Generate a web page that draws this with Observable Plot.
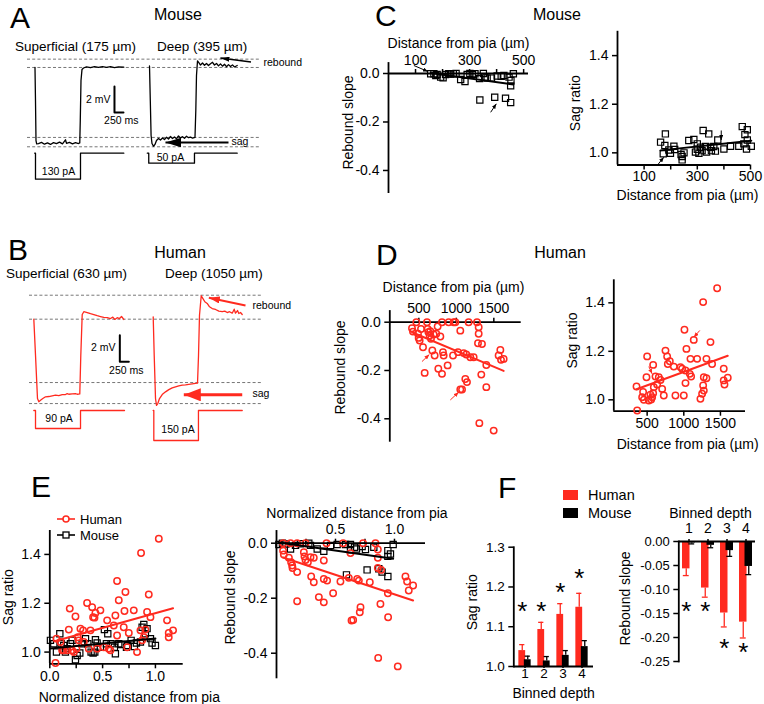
<!DOCTYPE html>
<html><head><meta charset="utf-8">
<script src="https://cdn.jsdelivr.net/npm/d3@7"></script>
<script src="https://cdn.jsdelivr.net/npm/@observablehq/plot@0.6"></script>
<style>
body{margin:0;background:#fff;}
#fig{position:relative;width:764px;height:704px;overflow:hidden;background:#fff;font-family:"Liberation Sans",Arial,Helvetica,sans-serif;color:#000;}
.lbl{position:absolute;white-space:nowrap;line-height:1;}
</style></head><body><div id="fig"></div>
<script>
// ================= DATA =================
// Panel A (mouse) voltage traces: [time ms, ΔV mV]
const mouseSuperficialTrace = [[0,0],[14,-2.54],[28,-5.62],[47,-5.88],[97,-5.85],[181,-5.76],[264,-5.90],[347,-5.80],[431,-5.92],[514,-5.78],[597,-5.86],[681,-5.74],[764,-5.88],[847,-5.56],[875,-5.84],[958,-5.76],[1042,-5.87],[1125,-5.78],[1208,-5.85],[1244,-5.80],[1258,-4.08],[1278,-1.0],[1306,-0.15],[1347,-0.04],[1431,0.05],[1542,-0.02],[1653,0.06],[1764,0.0],[1875,0.07],[1986,0.01],[2097,0.06],[2208,-0.01],[2319,0.05],[2467,0.02]];
const mouseDeepTrace = [[3181,0.12],[3203,-2.54],[3225,-5.23],[3250,-5.85],[3292,-6.06],[3333,-5.92],[3375,-5.62],[3431,-5.46],[3486,-5.58],[3542,-5.42],[3597,-5.54],[3653,-5.37],[3708,-5.5],[3764,-5.31],[3819,-5.46],[3875,-5.35],[3931,-5.48],[3986,-5.27],[4042,-5.42],[4097,-5.32],[4153,-5.45],[4208,-5.29],[4264,-5.4],[4319,-5.35],[4375,-5.43],[4444,-5.38],[4467,-3.31],[4486,-0.62],[4514,0.5],[4556,0.35],[4597,0.19],[4653,0.34],[4708,0.17],[4764,0.31],[4819,0.15],[4875,0.29],[4931,0.4],[4986,0.19],[5042,0.31],[5097,0.12],[5153,0.28],[5208,0.1],[5264,0.25],[5319,0.06],[5375,0.22],[5431,0.07],[5486,0.2],[5542,0.04],[5617,0.15]];
// Panel A current steps: [time ms, pA]
const mouseSuperficialStep = [[-8,0],[14,0],[14,-130],[1264,-130],[1264,0],[2467,0]];
const mouseDeepStep = [[3120,0],[3160,0],[3160,-50],[4430,-50],[4430,0],[5617,0]];
const mouseLevels = [0.64, 0, -5.38, -6.1];
// Panel B (human)
const humanSuperficialTrace = [[-33,0],[14,-2.71],[69,-5.96],[106,-6.2],[153,-6.09],[217,-5.96],[292,-5.83],[383,-5.81],[478,-5.76],[569,-5.71],[661,-5.74],[756,-5.66],[847,-5.66],[894,-5.59],[939,-5.64],[1033,-5.61],[1125,-5.59],[1172,-5.64],[1244,-5.61],[1272,-2.71],[1311,0.35],[1356,0.56],[1450,0.5],[1542,0.41],[1633,0.35],[1728,0.26],[1819,0.2],[1911,0.13],[2006,0.11],[2097,0.05],[2161,0.15],[2217,-0.02],[2283,0.11],[2347,0.05],[2403,0.2],[2467,-0.02]];
const humanDeepTrace = [[3283,0.18],[3311,-2.71],[3347,-5.96],[3375,-6.47],[3411,-6.34],[3458,-5.96],[3533,-5.66],[3625,-5.46],[3717,-5.29],[3811,-5.16],[3903,-5.08],[3994,-5.01],[4089,-4.96],[4181,-4.93],[4272,-4.89],[4367,-4.86],[4458,-4.83],[4514,-4.81],[4542,-2.71],[4569,0.3],[4617,1.76],[4661,1.56],[4717,1.31],[4783,1.18],[4847,0.93],[4922,0.8],[5014,0.73],[5106,0.6],[5200,0.56],[5272,0.6],[5339,0.5],[5403,0.56],[5478,0.45],[5533,0.75],[5569,0.45],[5625,0.65],[5661,0.43],[5708,0.5],[5756,0.35]];
const humanSuperficialStep = [[-33,0],[14,0],[14,-90],[1264,-90],[1264,0],[2486,0]];
const humanDeepStep = [[3283,0],[3300,0],[3300,-150],[4540,-150],[4540,0],[5756,0]];
const humanLevels = [1.8, 0, -4.76, -6.34];
const scaleBar = {mV: 2, ms: 250};

// Panel C (mouse): [distance µm, value]
const mouseReboundVsDist = [[156,-0.001],[168,-0.001],[175,-0.008],[180,-0.004],[193,-0.015],[202,-0.018],[211,-0.004],[223,-0.001],[230,-0.002],[240,-0.001],[250,0],[267,-0.025],[283,-0.033],[291,-0.004],[301,0],[310,-0.004],[320,-0.001],[337,-0.021],[351,0],[356,-0.015],[365,-0.019],[381,-0.019],[402,-0.010],[417,-0.012],[427,-0.008],[446,-0.015],[453,-0.029],[462,-0.001],[452,-0.051],[338,-0.109],[393,-0.098],[433,-0.102],[452,-0.120]];
const mouseSagVsDist = [[162,1.044],[180,1.078],[178,1.030],[172,0.996],[193,1.012],[199,0.998],[212,1.027],[215,1.014],[239,0.993],[243,0.971],[243,0.985],[268,1.051],[287,1.055],[293,1.003],[300,1.037],[306,0.998],[312,1.023],[318,1.009],[322,1.092],[331,1.026],[335,1.003],[343,1.078],[350,1.023],[353,1.009],[362,1.026],[368,1.007],[377,1.053],[400,1.016],[425,1.027],[456,1.027],[469,1.108],[479,1.075],[488,1.095],[488,1.053],[485,1.016],[503,1.027],[475,1.037],[300,1.015],[250,1.000]];
// Panel D (human)
const humanReboundVsDist = [[409,-0.025],[422,-0.039],[467,0],[489,-0.048],[498,-0.065],[511,-0.076],[529,-0.028],[556,-0.104],[578,-0.210],[609,0],[618,-0.028],[627,-0.041],[644,-0.055],[653,-0.037],[662,-0.069],[680,-0.117],[698,-0.051],[711,-0.138],[733,-0.048],[751,-0.018],[760,-0.193],[787,-0.059],[809,-0.214],[809,0],[822,-0.124],[831,-0.138],[884,-0.179],[898,0],[964,0],[956,-0.138],[987,0],[1053,-0.035],[1022,-0.124],[1098,-0.128],[1120,-0.235],[1142,-0.248],[1133,-0.134],[1164,0],[1187,-0.145],[1076,-0.279],[1053,-0.279],[1231,-0.145],[1276,0],[1298,-0.021],[1298,-0.048],[1289,-0.087],[1342,-0.090],[1333,-0.217],[1307,-0.418],[1400,-0.177],[1400,-0.269],[1498,-0.449],[1564,-0.138],[1587,-0.115],[1596,-0.156],[1631,-0.152]];
const humanSagVsDist = [[355,1.055],[364,0.956],[432,1.011],[445,1.032],[455,1.000],[491,1.093],[500,1.179],[523,0.997],[545,1.021],[555,1.001],[568,1.011],[582,1.027],[591,1.052],[582,1.144],[614,1.096],[636,1.063],[659,1.093],[682,1.082],[705,1.045],[727,1.018],[750,1.203],[773,1.179],[782,1.148],[809,1.159],[864,1.137],[886,1.018],[955,1.135],[977,1.128],[1000,1.018],[1023,1.121],[1009,1.289],[1036,1.210],[1023,1.069],[1091,1.169],[1082,1.107],[1100,1.096],[1136,1.247],[1182,1.169],[1250,1.025],[1227,1.004],[1264,1.403],[1273,1.093],[1264,1.059],[1273,1.038],[1309,1.089],[1309,1.169],[1364,1.238],[1386,1.148],[1455,1.460],[1545,1.080],[1555,1.063],[1545,1.128],[1600,1.091]];
// Panel E: [normalized distance, value]
const humanSagNorm = [[0.054,0.955],[0.063,1.055],[0.101,1.041],[0.117,1.007],[0.132,1.007],[0.164,1.007],[0.180,1.092],[0.189,1.178],[0.211,1.007],[0.227,1.000],[0.243,1.146],[0.252,1.014],[0.265,1.061],[0.274,1.048],[0.290,1.096],[0.315,1.089],[0.322,1.041],[0.353,1.201],[0.369,1.014],[0.385,1.089],[0.401,1.184],[0.410,1.143],[0.423,1.141],[0.432,1.160],[0.448,1.014],[0.479,1.171],[0.511,1.020],[0.543,1.130],[0.558,1.014],[0.574,1.007],[0.606,1.109],[0.621,1.150],[0.637,1.291],[0.653,1.212],[0.637,1.068],[0.700,1.102],[0.716,1.246],[0.732,1.020],[0.707,1.168],[0.748,1.078],[0.795,1.171],[0.826,1.000],[0.858,1.089],[0.864,1.406],[0.874,1.048],[0.890,1.061],[0.905,1.092],[0.921,1.164],[0.937,1.236],[0.953,1.143],[1.032,1.464],[1.110,1.130],[1.126,1.078],[1.126,1.061],[1.167,1.089]];
const mouseSagNorm = [[0.006,1.048],[0.038,1.034],[0.063,1.000],[0.095,1.075],[0.107,1.034],[0.132,1.027],[0.148,1.000],[0.164,1.014],[0.196,1.034],[0.211,1.048],[0.243,0.969],[0.259,0.986],[0.284,0.996],[0.306,1.034],[0.338,1.055],[0.360,1.034],[0.391,1.000],[0.410,0.996],[0.426,1.000],[0.432,1.051],[0.448,1.037],[0.479,1.020],[0.517,1.092],[0.536,1.034],[0.549,1.075],[0.580,1.034],[0.612,1.020],[0.621,0.993],[0.653,1.034],[0.675,1.031],[0.726,1.020],[0.738,1.027],[0.770,1.048],[0.801,1.023],[0.820,1.037],[0.858,1.041],[0.874,1.102],[0.890,1.113],[0.905,1.075],[0.921,1.096],[0.953,1.055],[0.968,1.037],[1.000,1.027]];
const humanReboundNorm = [[0.056,0],[0.056,-0.027],[0.062,-0.041],[0.105,-0.053],[0.124,-0.069],[0.133,-0.081],[0.136,-0.090],[0.175,-0.105],[0.175,-0.211],[0.119,0],[0.175,0],[0.246,0],[0.232,-0.033],[0.237,-0.048],[0.246,-0.061],[0.266,-0.069],[0.288,-0.051],[0.316,-0.053],[0.294,-0.121],[0.316,-0.142],[0.359,-0.196],[0.401,-0.063],[0.401,-0.130],[0.401,-0.215],[0.424,0],[0.429,-0.136],[0.480,-0.182],[0.542,-0.139],[0.565,0],[0.627,-0.036],[0.613,-0.126],[0.684,-0.130],[0.698,-0.136],[0.712,-0.233],[0.650,-0.279],[0.636,-0.281],[0.706,-0.251],[0.734,0],[0.791,-0.142],[0.839,0],[0.859,-0.023],[0.859,-0.053],[0.859,-0.090],[0.887,-0.097],[0.881,-0.221],[0.944,-0.182],[0.946,-0.269],[0.862,-0.417],[1.028,-0.448],[1.093,-0.121],[1.107,-0.139],[1.121,-0.172],[1.158,-0.154]];
const mouseReboundNorm = [[0.020,-0.005],[0.05,0],[0.08,-0.003],[0.119,-0.021],[0.161,-0.008],[0.203,-0.002],[0.274,0],[0.288,-0.008],[0.345,-0.021],[0.401,-0.029],[0.458,-0.008],[0.514,-0.005],[0.585,-0.005],[0.593,-0.115],[0.627,-0.005],[0.627,-0.024],[0.661,-0.015],[0.678,-0.021],[0.726,-0.012],[0.754,-0.023],[0.768,-0.097],[0.825,-0.015],[0.867,-0.093],[0.895,-0.105],[0.944,-0.121],[0.944,-0.048],[0.944,-0.027],[0.966,-0.039],[0.989,-0.005]];
// Panel F: binned depth means and SEM
const bins = ["1","2","3","4"];
const humanSagBinned = [1.040, 1.093, 1.131, 1.149];
const humanSagSem = [0.015, 0.018, 0.027, 0.035];
const mouseSagBinned = [1.017, 1.014, 1.028, 1.050];
const mouseSagSem = [0.009, 0.011, 0.012, 0.015];
const sagStars = [1.153, 1.153, 1.200, 1.237];
const humanReboundBinned = [-0.057, -0.097, -0.149, -0.168];
const humanReboundSem = [0.014, 0.019, 0.029, 0.033];
const mouseReboundBinned = [-0.003, -0.008, -0.019, -0.052];
const mouseReboundSem = [0.002, 0.005, 0.012, 0.017];
const reboundStars = [-0.133, -0.133, -0.210, -0.219];

// ================= HELPERS =================
const fig = document.getElementById("fig");
const FONT = '"Liberation Sans", Arial, Helvetica, sans-serif';
const RED = "#ff2a1f";
const st = (size) => ({background: "transparent", overflow: "visible", fontFamily: FONT, fontSize: size + "px", color: "#000"});
function place(svg, left, top) {
  const w = document.createElement("div");
  w.style.position = "absolute"; w.style.left = left + "px"; w.style.top = top + "px";
  w.style.width = svg.getAttribute("width") + "px"; w.style.height = svg.getAttribute("height") + "px";
  w.appendChild(svg); fig.appendChild(w);
}
function txt(s, x, y, size, anchor = "start") {
  const d = document.createElement("div");
  d.className = "lbl"; d.textContent = s;
  d.style.fontSize = size + "px"; d.style.left = x + "px"; d.style.top = y + "px";
  d.style.transform = anchor === "middle" ? "translate(-50%,-50%)" : "translate(0,-50%)";
  fig.appendChild(d);
}
function head(len, wid) {
  return (color, context) => {
    const ns = "http://www.w3.org/2000/svg";
    const doc = (context && context.document) || document;
    const m = doc.createElementNS(ns, "marker");
    m.setAttribute("viewBox", `${-len} ${-wid / 2} ${len} ${wid}`);
    m.setAttribute("markerWidth", len); m.setAttribute("markerHeight", wid);
    m.setAttribute("markerUnits", "userSpaceOnUse");
    m.setAttribute("orient", "auto");
    const p = doc.createElementNS(ns, "path");
    p.setAttribute("d", `M0,0L${-len},${-wid / 2}L${-len},${wid / 2}Z`);
    p.setAttribute("fill", color); p.setAttribute("stroke", "none");
    m.appendChild(p);
    return m;
  };
}
const X = d => d[0], Y = d => d[1];
const arrow = (a, color, w, len, wid) => Plot.link([a], {x1: d => d[0], y1: d => d[1], x2: d => d[2], y2: d => d[3], stroke: color, strokeWidth: w, markerEnd: head(len, wid)});
const f1 = d => d.toFixed(1), f2 = d => d.toFixed(2);
const label = (s, o) => Plot.text([s], {text: d => d, fontSize: 14, textAnchor: "middle", lineAnchor: "middle", ...o});

// ================= PANEL A / B TRACES =================
function annot(texts, size) {
  return ["start", "middle", "end"].map(a => Plot.text(texts.filter(d => d[3] === a), {x: d => d[0], y: d => d[1], text: d => d[2], textAnchor: a, fontSize: size, fill: "black"}));
}
function tracePlot(o) {
  const sb = [[o.bar[0], o.bar[1]], [o.bar[0], o.bar[1] - scaleBar.mV], [o.bar[0] + scaleBar.ms, o.bar[1] - scaleBar.mV]];
  return Plot.plot({
    width: 305, height: o.height, marginLeft: o.ml, marginRight: 305 - o.ml - 233, marginTop: 0, marginBottom: 0,
    x: {domain: o.xd, axis: null}, y: {domain: o.yd, axis: null}, style: st(10.5),
    marks: [
      Plot.ruleY(o.levels, {stroke: "#666", strokeWidth: 0.9, strokeDasharray: "3,2.2"}),
      Plot.line(o.sup, {x: X, y: Y, stroke: o.color, strokeWidth: 1.3}),
      Plot.line(o.deep, {x: X, y: Y, stroke: o.color, strokeWidth: 1.3}),
      Plot.line(sb, {x: X, y: Y, stroke: "black", strokeWidth: 2}),
      ...annot(o.texts, 10.5),
      arrow(o.arrow1, o.color, o.aw1, o.ah1[0], o.ah1[1]),
      arrow(o.arrow2, o.color, o.aw2, o.ah2[0], o.ah2[1])
    ]
  });
}
function stepPlot(o) {
  return Plot.plot({
    width: 305, height: 45, marginLeft: o.ml, marginRight: 305 - o.ml - 233, marginTop: 0, marginBottom: 0,
    x: {domain: o.xd, axis: null}, y: {domain: o.yd, axis: null}, style: st(10.5),
    marks: [
      Plot.line(o.sup, {x: X, y: Y, stroke: o.color, strokeWidth: 1.3}),
      Plot.line(o.deep, {x: X, y: Y, stroke: o.color, strokeWidth: 1.3}),
      Plot.text(o.texts, {x: d => d[0], y: d => d[1], text: d => d[2], fontSize: 10.5, fill: "black"})
    ]
  });
}
place(tracePlot({
  height: 110, ml: 27, xd: [-208, 6264], yd: [-6.77, 1.69], levels: mouseLevels, color: "black",
  sup: mouseSuperficialTrace, deep: mouseDeepTrace, bar: [2208, -1.46],
  texts: [[2097, -2.44, "2 mV", "end"], [2397, -4.1, "250 ms", "middle"], [6347, 0.41, "rebound", "start"], [5458, -5.72, "sag", "start"]],
  arrow1: [6000, 0.42, 5150, 0.72], aw1: 1.5, ah1: [9, 5],
  arrow2: [5375, -5.77, 3625, -5.77], aw2: 2, ah2: [16, 10]
}), 0, 45);
place(stepPlot({ml: 27, xd: [-208, 6264], yd: [-186.5, 38.5], color: "black", sup: mouseSuperficialStep, deep: mouseDeepStep,
  texts: [[653, -93, "130 pA"], [3764, -20, "50 pA"]]}), 0, 145);
place(tracePlot({
  height: 125, ml: 29, xd: [-153, 6319], yd: [-6.86, 2.53], levels: humanLevels, color: RED,
  sup: humanSuperficialTrace, deep: humanDeepTrace, bar: [2356, -1.2],
  texts: [[2236, -2.15, "2 mV", "end"], [2536, -3.83, "250 ms", "middle"], [6042, 1.03, "rebound", "start"], [6042, -5.59, "sag", "start"]],
  arrow1: [5847, 1.03, 4828, 1.61], aw1: 2, ah1: [11, 7],
  arrow2: [5756, -5.68, 4133, -5.68], aw2: 3, ah2: [17, 13]
}), 0, 285);
place(stepPlot({ml: 29, xd: [-153, 6319], yd: [-195, 30], color: RED, sup: humanSuperficialStep, deep: humanDeepStep,
  texts: [[667, -41.5, "90 pA"], [3972, -96.5, "150 pA"]]}), 0, 404);

// ================= PANEL C =================
place(Plot.plot({
  width: 210, height: 170, marginLeft: 58, marginRight: 12, marginTop: 43, marginBottom: 7,
  x: {domain: [0, 518]}, y: {domain: [-0.495, 0]}, style: st(14),
  marks: [
    Plot.ruleY([0], {strokeWidth: 1.8}),
    Plot.ruleX([0], {y1: -0.495, y2: 0.045, strokeWidth: 1.8}),
    Plot.axisX({anchor: "top", ticks: [100, 200, 300, 400, 500], tickFormat: d => d % 200 === 100 ? d : "", tickSize: 5, strokeWidth: 1.5, label: null}),
    Plot.axisY({ticks: [0, -0.2, -0.4], tickFormat: f1, tickSize: 5, strokeWidth: 1.5, label: null}),
    label("Distance from pia (µm)", {frameAnchor: "top", dy: -30}),
    label("Rebound slope", {frameAnchor: "left", rotate: -90, dx: -40, dy: -11}),
    Plot.dot(mouseReboundVsDist, {x: X, y: Y, symbol: "square", r: 3.5, stroke: "black", fill: "none", strokeWidth: 1.2}),
    Plot.linearRegressionY(mouseReboundVsDist, {x: X, y: Y, ci: 0, stroke: "black", strokeWidth: 2}),
    arrow([94, 0.033, 146, 0.008], "black", 1, 5, 4),
    arrow([378, -0.16, 399, -0.125], "black", 1, 5, 4)
  ]
}), 330, 30);
place(Plot.plot({
  width: 200, height: 210, marginLeft: 57, marginRight: 10, marginTop: 30.8, marginBottom: 45.5,
  x: {domain: [0, 500]}, y: {domain: [0.95, 1.5]}, style: st(14),
  marks: [
    Plot.ruleY([0.95], {strokeWidth: 1.8}),
    Plot.ruleX([0], {strokeWidth: 1.8}),
    Plot.axisX({ticks: [100, 200, 300, 400, 500], tickFormat: d => d % 200 === 100 ? d : "", tickSize: 5, tickPadding: 1, strokeWidth: 1.5, label: null}),
    Plot.axisY({ticks: [1.0, 1.2, 1.4], tickFormat: f1, tickSize: 5, strokeWidth: 1.5, label: null}),
    label("Distance from pia (µm)", {frameAnchor: "bottom", dy: 31, dx: 3.5}),
    label("Sag ratio", {frameAnchor: "left", rotate: -90, dx: -42, dy: 5}),
    Plot.dot(mouseSagVsDist, {x: X, y: Y, symbol: "square", r: 3.5, stroke: "black", fill: "none", strokeWidth: 1.2}),
    Plot.linearRegressionY(mouseSagVsDist, {x: X, y: Y, ci: 0, stroke: "black", strokeWidth: 2}),
    arrow([149, 0.948, 174, 0.982], "black", 1, 5, 4),
    arrow([390, 1.092, 390, 1.053], "black", 1, 5, 4)
  ]
}), 560, 0);

// ================= PANEL D =================
place(Plot.plot({
  width: 200, height: 180, marginLeft: 59.3, marginRight: 9.3, marginTop: 51.7, marginBottom: 8.3,
  x: {domain: [113, 1865]}, y: {domain: [-0.497, 0]}, style: st(14),
  marks: [
    Plot.ruleY([0], {strokeWidth: 1.8}),
    Plot.ruleX([113], {y1: -0.497, y2: 0.048, strokeWidth: 1.8}),
    Plot.axisX({anchor: "top", ticks: [500, 1000, 1500], tickSize: 5, strokeWidth: 1.5, label: null, tickFormat: d => String(d)}),
    Plot.axisY({ticks: [0, -0.2, -0.4], tickFormat: f1, tickSize: 5, strokeWidth: 1.5, label: null}),
    label("Distance from pia (µm)", {frameAnchor: "top", dy: -34.7, dx: -2}),
    label("Rebound slope", {frameAnchor: "left", rotate: -90, dx: -49, dy: -14.7}),
    Plot.dot(humanReboundVsDist, {x: X, y: Y, r: 3.2, stroke: RED, fill: "none", strokeWidth: 1.5}),
    Plot.linearRegressionY(humanReboundVsDist, {x: X, y: Y, ci: 0, stroke: RED, strokeWidth: 2}),
    arrow([542, -0.163, 640, -0.134], RED, 1, 5, 4),
    arrow([920, -0.322, 1031, -0.290], RED, 1, 5, 4)
  ]
}), 330, 270);
place(Plot.plot({
  width: 200, height: 200, marginLeft: 53.3, marginRight: 15, marginTop: 19.3, marginBottom: 49.3,
  x: {domain: [45, 1842]}, y: {domain: [0.953, 1.495]}, style: st(14),
  marks: [
    Plot.ruleY([0.953], {strokeWidth: 1.8}),
    Plot.ruleX([45], {strokeWidth: 1.8}),
    Plot.axisX({ticks: [500, 1000, 1500], tickSize: 5, tickPadding: 2, strokeWidth: 1.5, label: null, tickFormat: d => String(d)}),
    Plot.axisY({ticks: [1.0, 1.2, 1.4], tickFormat: f1, tickSize: 5, strokeWidth: 1.5, label: null}),
    label("Distance from pia (µm)", {frameAnchor: "bottom", dy: 33, dx: 8}),
    label("Sag ratio", {frameAnchor: "left", rotate: -90, dx: -41, dy: -5}),
    Plot.dot(humanSagVsDist, {x: X, y: Y, r: 3.2, stroke: RED, fill: "none", strokeWidth: 1.5}),
    Plot.linearRegressionY(humanSagVsDist, {x: X, y: Y, ci: 0, stroke: RED, strokeWidth: 2}),
    arrow([523, 1.137, 568, 1.107], RED, 1, 5, 4),
    arrow([1218, 1.286, 1136, 1.258], RED, 1, 5, 4)
  ]
}), 560, 260);

// ================= PANEL E =================
place(Plot.plot({
  width: 200, height: 234, marginLeft: 49.3, marginRight: 17.3, marginTop: 60, marginBottom: 40.7,
  x: {domain: [0, 1.263]}, y: {domain: [0.952, 1.498]}, style: st(14),
  marks: [
    Plot.ruleY([0.952], {strokeWidth: 1.8}),
    Plot.ruleX([0], {strokeWidth: 1.8}),
    Plot.axisX({ticks: [0, 0.25, 0.5, 0.75, 1.0], tickFormat: d => (d * 2) % 1 === 0 ? d.toFixed(1) : "", tickSize: 5, tickPadding: 2, strokeWidth: 1.5, label: null}),
    Plot.axisY({ticks: [1.0, 1.2, 1.4], tickFormat: f1, tickSize: 5, strokeWidth: 1.5, label: null}),
    label("Normalized distance from pia", {frameAnchor: "bottom", dy: 33.4, dx: 12.8}),
    label("Sag ratio", {frameAnchor: "left", rotate: -90, dx: -41}),
    Plot.dot(mouseSagNorm, {x: X, y: Y, symbol: "square", r: 3.5, stroke: "black", fill: "none", strokeWidth: 1.2}),
    Plot.dot(humanSagNorm, {x: X, y: Y, r: 3.2, stroke: RED, fill: "none", strokeWidth: 1.5}),
    Plot.linearRegressionY(mouseSagNorm, {x: X, y: Y, ci: 0, stroke: "black", strokeWidth: 2}),
    Plot.linearRegressionY(humanSagNorm, {x: X, y: Y, ci: 0, stroke: RED, strokeWidth: 2})
  ]
}), 0, 470);
place(Plot.plot({
  width: 215, height: 200, marginLeft: 56, marginRight: 10, marginTop: 52.7, marginBottom: 11.7,
  x: {domain: [0, 1.263]}, y: {domain: [-0.493, 0]}, style: st(14),
  marks: [
    Plot.ruleX([0], {y1: -0.493, y2: 0.046, strokeWidth: 1.8}),
    Plot.axisX({anchor: "top", ticks: [0.25, 0.5, 0.75, 1.0], tickFormat: d => (d * 2) % 1 === 0 ? d.toFixed(1) : "", tickSize: 5, strokeWidth: 1.5, label: null}),
    Plot.axisY({ticks: [0, -0.2, -0.4], tickFormat: f1, tickSize: 5, strokeWidth: 1.5, label: null}),
    label("Normalized distance from pia", {frameAnchor: "top", dy: -29.7, dx: 6}),
    label("Rebound slope", {frameAnchor: "left", rotate: -90, dx: -46, dy: -13.5}),
    Plot.dot(mouseReboundNorm, {x: X, y: Y, symbol: "square", r: 3.5, stroke: "black", fill: "none", strokeWidth: 1.2}),
    Plot.dot(humanReboundNorm, {x: X, y: Y, r: 3.2, stroke: RED, fill: "none", strokeWidth: 1.5}),
    Plot.ruleY([0], {strokeWidth: 1.8}),
    Plot.linearRegressionY(mouseReboundNorm, {x: X, y: Y, ci: 0, stroke: "black", strokeWidth: 2}),
    Plot.linearRegressionY(humanReboundNorm, {x: X, y: Y, ci: 0, stroke: RED, strokeWidth: 2})
  ]
}), 220, 490);

// ================= PANEL F =================
const sagTable = bins.map((b, i) => ({bin: b, h: humanSagBinned[i], he: humanSagSem[i], m: mouseSagBinned[i], me: mouseSagSem[i], star: sagStars[i]}));
const rebTable = bins.map((b, i) => ({bin: b, h: humanReboundBinned[i], he: humanReboundSem[i], m: mouseReboundBinned[i], me: mouseReboundSem[i], star: reboundStars[i]}));
function barMarks(tab, base, sign, bw) {
  const inA = bw / 2 - 6.6, inB = bw / 2 - 1.1; // human: left part of the bin, mouse: right part
  return [
    Plot.barY(tab, {x: "bin", y1: base, y2: "h", fill: RED, insetLeft: inA, insetRight: inB}),
    Plot.barY(tab, {x: "bin", y1: base, y2: "m", fill: "black", insetLeft: inB, insetRight: inA}),
    Plot.ruleX(tab, {x: "bin", y1: "h", y2: d => d.h + sign * d.he, dx: -(inB - inA) / 2, stroke: RED, strokeWidth: 1.3}),
    Plot.tickY(tab, {x: "bin", y: d => d.h + sign * d.he, insetLeft: inA + 0.8, insetRight: inB + 0.8, stroke: RED, strokeWidth: 1.3}),
    Plot.ruleX(tab, {x: "bin", y1: "m", y2: d => d.m + sign * d.me, dx: (inB - inA) / 2, strokeWidth: 1.3}),
    Plot.tickY(tab, {x: "bin", y: d => d.m + sign * d.me, insetLeft: inB + 0.8, insetRight: inA + 0.8, strokeWidth: 1.3}),
    Plot.text(tab, {x: "bin", y: "star", text: () => "*", dx: -(inB - inA) / 2, dy: 6, fontSize: 26})
  ];
}
place(Plot.plot({
  width: 145, height: 224, marginLeft: 53.3, marginRight: 12, marginTop: 66.7, marginBottom: 38,
  x: {domain: bins, padding: 0}, y: {domain: [1.0, 1.3]}, style: st(13.5),
  marks: [
    ...barMarks(sagTable, 1, 1, 19.9),
    Plot.ruleY([1.0], {strokeWidth: 1.8}),
    Plot.frame({anchor: "left", strokeWidth: 1.8}),
    Plot.axisX({tickSize: 2, tickPadding: 0, strokeWidth: 1.5, label: null, fontSize: 13.5}),
    Plot.axisY({ticks: [1.0, 1.1, 1.2, 1.3], tickFormat: f1, tickSize: 5, strokeWidth: 1.5, label: null}),
    label("Binned depth", {frameAnchor: "bottom", dy: 27.5}),
    label("Sag ratio", {frameAnchor: "left", rotate: -90, dx: -41, dy: -4.6})
  ]
}), 460, 480);
place(Plot.plot({
  width: 144, height: 224, marginLeft: 58.3, marginRight: 9, marginTop: 61, marginBottom: 43,
  x: {domain: bins, padding: 0}, y: {domain: [-0.25, 0]}, style: st(13),
  marks: [
    ...barMarks(rebTable, 0, -1, 19.2),
    Plot.ruleY([0], {strokeWidth: 1.8}),
    Plot.frame({anchor: "left", strokeWidth: 1.8}),
    Plot.axisX({anchor: "top", tickSize: 3, strokeWidth: 1.5, label: null, fontSize: 14}),
    Plot.axisY({ticks: [0, -0.05, -0.1, -0.15, -0.2, -0.25], tickFormat: f2, tickSize: 5, strokeWidth: 1.5, label: null}),
    label("Binned depth", {frameAnchor: "top", dy: -28, dx: -6.7}),
    label("Rebound slope", {frameAnchor: "left", rotate: -90, dx: -53, dy: -3})
  ]
}), 620, 480);

// ================= TEXT, LETTERS, LEGENDS =================
[["A", 10, 17.5], ["B", 8, 249.5], ["C", 375, 16], ["D", 376, 255], ["E", 31, 486.5], ["F", 498, 487.5]]
  .forEach(([s, x, y]) => txt(s, x, y, 30));
txt("Mouse", 178, 15, 16, "middle");
txt("Mouse", 557, 15, 16, "middle");
txt("Human", 180, 253, 16, "middle");
txt("Human", 560, 253, 16, "middle");
txt("Superficial (175 µm)", 15, 47, 13.5);
txt("Deep (395 µm)", 157, 47, 13.5);
txt("Superficial (630 µm)", 6, 274, 13.5);
txt("Deep (1050 µm)", 165, 274, 13.5);
// legend E
function legendE(color, symbol, y, name) {
  const s = d3.create("svg").attr("width", 20).attr("height", 10)
    .style("position", "absolute").style("left", "56px").style("top", (y - 5) + "px").style("overflow", "visible");
  s.append("line").attr("x1", 1).attr("x2", 19).attr("y1", 5).attr("y2", 5).attr("stroke", color).attr("stroke-width", 1.6);
  if (symbol === "circle") s.append("circle").attr("cx", 10).attr("cy", 5).attr("r", 3).attr("fill", "white").attr("stroke", color).attr("stroke-width", 1.5);
  else s.append("rect").attr("x", 7).attr("y", 2).attr("width", 6).attr("height", 6).attr("fill", "white").attr("stroke", color).attr("stroke-width", 1.3);
  fig.appendChild(s.node());
  txt(name, 80, y, 13);
}
legendE(RED, "circle", 519, "Human");
legendE("black", "square", 535, "Mouse");
// legend F
function legendF(color, y, name) {
  const d = document.createElement("div");
  d.style.cssText = `position:absolute;left:563px;top:${y - 5}px;width:15px;height:10px;background:${color};`;
  fig.appendChild(d);
  txt(name, 588, y, 14.5);
}
legendF(RED, 495, "Human");
legendF("black", 513, "Mouse");
</script></body></html>
